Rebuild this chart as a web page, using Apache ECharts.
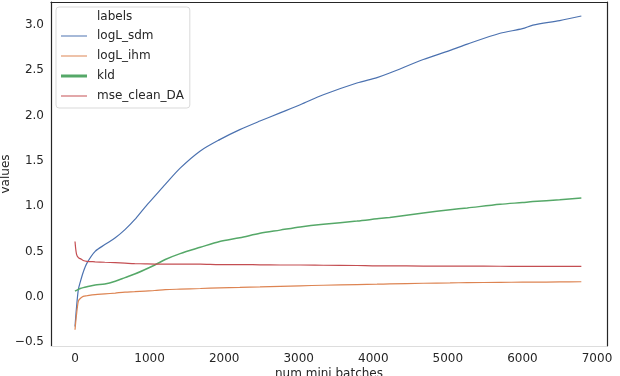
<!DOCTYPE html>
<html>
<head>
<meta charset="utf-8">
<script src="https://cdn.jsdelivr.net/npm/echarts@6.0.0/dist/echarts.min.js"></script>
<style>
  html, body { margin: 0; padding: 0; background: #fff; }
  #chart { width: 620px; height: 376px; }
</style>
</head>
<body>
<div id="chart"></div>
<script>
// x positions (num mini batches)
var batches = [0, 20, 45, 70, 110, 160, 270, 400, 540, 670, 800, 940, 1070, 1210, 1410, 1680, 1940, 2210, 2480, 2750, 3020, 3330, 3780, 4050, 4220, 4670, 5030, 5260, 5700, 6000, 6140, 6500, 6790];

var logL_sdm = [-0.33, -0.12, 0.08, 0.16, 0.27, 0.37, 0.50, 0.575, 0.65, 0.74, 0.85, 0.99, 1.11, 1.24, 1.42, 1.61, 1.735, 1.845, 1.94, 2.03, 2.12, 2.23, 2.36, 2.42, 2.47, 2.62, 2.72, 2.79, 2.91, 2.96, 3.00, 3.05, 3.10];
var logL_ihm = [-0.365, -0.20, -0.05, -0.02, 0.003, 0.01, 0.022, 0.03, 0.04, 0.05, 0.055, 0.062, 0.068, 0.077, 0.083, 0.09, 0.098, 0.103, 0.108, 0.114, 0.12, 0.126, 0.134, 0.138, 0.141, 0.148, 0.152, 0.155, 0.158, 0.16, 0.16, 0.163, 0.165];
var kld = [0.06, 0.07, 0.08, 0.09, 0.10, 0.11, 0.13, 0.14, 0.17, 0.21, 0.25, 0.30, 0.35, 0.41, 0.475, 0.545, 0.61, 0.65, 0.70, 0.735, 0.77, 0.80, 0.835, 0.86, 0.875, 0.925, 0.96, 0.98, 1.02, 1.04, 1.05, 1.07, 1.09];
var mse_clean_DA = [0.61, 0.47, 0.43, 0.42, 0.40, 0.39, 0.385, 0.38, 0.375, 0.37, 0.365, 0.362, 0.36, 0.36, 0.36, 0.36, 0.355, 0.355, 0.352, 0.35, 0.35, 0.347, 0.344, 0.34, 0.34, 0.338, 0.337, 0.337, 0.336, 0.335, 0.335, 0.335, 0.335];

var xTicks = [0, 1000, 2000, 3000, 4000, 5000, 6000, 7000];
var yTicks = [-0.5, 0.0, 0.5, 1.0, 1.5, 2.0, 2.5, 3.0];

var names = ["logL_sdm", "logL_ihm", "kld", "mse_clean_DA"];
var colors = ["#4c72b0", "#dd8452", "#55a868", "#c44e52"];
var values = [logL_sdm, logL_ihm, kld, mse_clean_DA];

function pairs(ys) {
  return batches.map(function (x, i) { return [x, ys[i]]; });
}

var txt = "#262626";
var font = "DejaVu Sans";

var chart = echarts.init(document.getElementById("chart"));
chart.setOption({
  animation: false,
  color: colors,
  textStyle: { fontFamily: font },
  grid: { left: 51, right: 13, top: 2, bottom: 30, containLabel: false, outerBoundsMode: "none" },
  title: {
    text: "labels",
    left: 97,
    top: 11,
    padding: 0,
    textStyle: { fontSize: 12, fontWeight: "normal", color: txt, fontFamily: font }
  },
  legend: {
    orient: "vertical",
    left: 56,
    top: 7,
    padding: [23, 6, 6, 5],
    itemWidth: 26,
    itemHeight: 10,
    itemGap: 8,
    icon: "path://M0,4.5L26,4.5L26,5.5L0,5.5Z",
    borderColor: "#d9d9d9",
    borderWidth: 1,
    borderRadius: 3,
    backgroundColor: "rgba(255,255,255,0.85)",
    textStyle: { fontSize: 12, color: txt, fontFamily: font, padding: [0, 0, 0, 5] },
    data: [
      { name: "logL_sdm" },
      { name: "logL_ihm" },
      { name: "kld", icon: "path://M0,3.5L26,3.5L26,6.5L0,6.5Z" },
      { name: "mse_clean_DA" }
    ]
  },
  xAxis: [
    {
      type: "value",
      min: -322,
      max: 7134,
      name: "num mini batches",
      nameLocation: "middle",
      nameGap: 22,
      nameMoveOverlap: false,
      nameTextStyle: { fontSize: 12, color: txt, fontFamily: font },
      axisLine: { show: true, onZero: false, lineStyle: { color: "#dddddd", width: 1 } },
      axisTick: { show: false },
      splitLine: { show: false },
      axisLabel: {
        customValues: xTicks,
        margin: 7,
        fontSize: 12,
        color: txt,
        fontFamily: font,
        formatter: function (v) { return String(v); }
      }
    },
    {
      type: "value",
      position: "top",
      min: -322,
      max: 7134,
      axisLine: { show: true, onZero: false, lineStyle: { color: "#262626", width: 1.2 } },
      axisTick: { show: false },
      axisLabel: { show: false },
      splitLine: { show: false }
    }
  ],
  yAxis: [
    {
      type: "value",
      min: -0.545,
      max: 3.255,
      name: "values",
      nameLocation: "middle",
      nameGap: 39,
      nameMoveOverlap: false,
      nameTextStyle: { fontSize: 12, color: txt, fontFamily: font },
      axisLine: { show: true, onZero: false, lineStyle: { color: "#262626", width: 1.2 } },
      axisTick: { show: false },
      splitLine: { show: false },
      axisLabel: {
        customValues: yTicks,
        margin: 7,
        fontSize: 12,
        color: txt,
        fontFamily: font,
        formatter: function (v) { return (v < 0 ? "\u2212" : "") + Math.abs(v).toFixed(1); }
      }
    },
    {
      type: "value",
      position: "right",
      min: -0.545,
      max: 3.255,
      axisLine: { show: true, onZero: false, lineStyle: { color: "#262626", width: 1.2 } },
      axisTick: { show: false },
      axisLabel: { show: false },
      splitLine: { show: false }
    }
  ],
  series: names.map(function (n, i) {
    return {
      name: n,
      type: "line",
      data: pairs(values[i]),
      showSymbol: false,
      smooth: 0.3,
      lineStyle: { width: n === "kld" ? 1.5 : 1.2, color: colors[i] },
      z: i === 3 ? 3 : 2
    };
  })
});
</script>
</body>
</html>
